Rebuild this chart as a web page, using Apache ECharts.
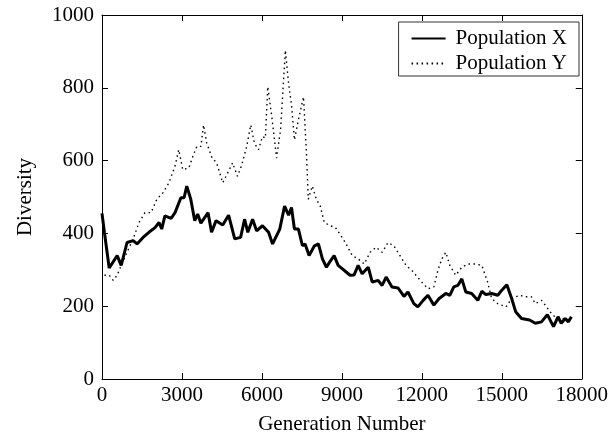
<!DOCTYPE html>
<html>
<head>
<meta charset="utf-8">
<script src="https://cdn.jsdelivr.net/npm/echarts@6/dist/echarts.min.js"></script>
<style>
  html, body { margin: 0; padding: 0; background: #fff; }
  #chart { width: 611px; height: 440px; }
</style>
</head>
<body>
<div id="chart"></div>
<script>
// Population X (solid line)
const genX = [0, 90, 270, 570, 720, 940, 1170, 1315, 1540, 1760, 1990, 2140, 2240, 2360, 2590, 2740, 2960, 3080, 3180, 3330,
  3480, 3590, 3710, 3980, 4110, 4280, 4530, 4750, 4980, 5200, 5350, 5470, 5650, 5800, 6020, 6250, 6400, 6670, 6850, 7000,
  7110, 7220, 7370, 7520, 7620, 7770, 7970, 8120, 8270, 8420, 8540, 8710, 8860, 9010, 9160, 9310, 9460, 9610, 9760, 9990,
  10140, 10360, 10510, 10660, 10880, 11110, 11330, 11480, 11700, 11850, 12050, 12230, 12450, 12650, 12900, 13050, 13200, 13350, 13500, 13650,
  13870, 14100, 14250, 14400, 14620, 14850, 15000, 15190, 15370, 15520, 15740, 16040, 16260, 16490, 16710, 16940, 17110, 17230, 17380, 17500, 17610]
const divX = [455, 403, 305, 339, 312, 375, 380, 371, 389, 403, 416, 430, 412, 448, 441, 457, 498, 498, 530, 494,
  435, 453, 428, 457, 403, 435, 423, 450, 385, 389, 439, 403, 439, 407, 421, 403, 371, 412, 475, 450,
  471, 412, 412, 366, 371, 339, 366, 371, 330, 307, 321, 339, 312, 303, 294, 285, 286, 312, 289, 307,
  266, 271, 257, 280, 253, 250, 227, 239, 207, 198, 216, 230, 203, 221, 235, 230, 253, 257, 275, 239,
  235, 216, 241, 232, 235, 230, 244, 259, 221, 185, 166, 162, 153, 157, 177, 144, 171, 153, 166, 157, 171]

// Population Y (dotted line)
const genY = [90, 270, 420, 570, 720, 940, 1170, 1390, 1610, 1840, 2060, 2290, 2510, 2740, 2880, 3030, 3260, 3410, 3560, 3710,
  3810, 3930, 4130, 4300, 4530, 4720, 4900, 5080, 5230, 5430, 5580, 5720, 5870, 6020, 6130, 6220, 6370, 6550, 6700, 6880,
  7000, 7110, 7220, 7370, 7560, 7670, 7740, 7890, 8040, 8190, 8340, 8560, 8760, 9010, 9160, 9390, 9610, 9840, 10060, 10280,
  10510, 10730, 10950, 11180, 11410, 11630, 11780, 12000, 12230, 12450, 12600, 12750, 12900, 13050, 13270, 13500, 13720, 14020, 14250, 14470,
  14620, 14850, 15160, 15370, 15670, 15890, 16110, 16260, 16490, 16680, 16890, 17090, 17310, 17610]
const divY = [285, 285, 271, 285, 312, 348, 385, 430, 457, 457, 494, 512, 539, 585, 630, 575, 580, 612, 639, 639,
  698, 648, 607, 594, 539, 567, 594, 557, 585, 639, 698, 648, 630, 666, 662, 803, 721, 607, 685, 903,
  812, 753, 657, 712, 775, 621, 494, 530, 494, 475, 430, 421, 416, 389, 371, 339, 330, 316, 348, 362,
  348, 375, 366, 339, 312, 298, 285, 266, 248, 253, 298, 330, 348, 312, 285, 307, 316, 316, 312, 266,
  221, 207, 198, 221, 230, 226, 226, 207, 216, 198, 177, 166, 166, 162]

const xTicks = [0, 3000, 6000, 9000, 12000, 15000, 18000]
const yTicks = [0, 200, 400, 600, 800, 1000]

const FONT = '"Liberation Serif", "DejaVu Serif", serif'
const INK = '#000'

const chart = echarts.init(document.getElementById('chart'), null, { renderer: 'canvas' })

// shared look for the box axes (ticks inside on all four sides)
const frameAxis = (extra) => Object.assign({
  type: 'value',
  axisLine: { show: true, onZero: false, lineStyle: { color: INK, width: 1 } },
  axisTick: { show: true, inside: true, length: 6, lineStyle: { color: INK } },
  splitLine: { show: false },
}, extra)

const option = {
  backgroundColor: '#fff',
  animation: false,
  grid: { left: 102, right: 27, top: 15, bottom: 58, containLabel: false },
  legend: {
    orient: 'vertical',
    right: 32,
    top: 22,
    backgroundColor: '#fff',
    borderColor: '#333',
    borderWidth: 1,
    borderRadius: 0,
    padding: [6, 12, 2, 12],
    itemGap: 4,
    itemWidth: 34,
    itemHeight: 12,
    itemStyle: { opacity: 0 },
    textStyle: { fontFamily: FONT, fontSize: 21, color: INK, padding: [0, 0, 0, 5] },
    data: ['Population X', 'Population Y'],
  },
  xAxis: [
    frameAxis({
      position: 'bottom',
      min: 0, max: 18000, interval: 3000,
      name: 'Generation Number',
      nameLocation: 'middle',
      nameGap: 35,
      nameTextStyle: { fontFamily: FONT, fontSize: 21, color: INK },
      axisLabel: {
        fontFamily: FONT, fontSize: 21, color: INK, margin: 6,
        formatter: (v) => (xTicks.includes(v) ? String(v) : ''),
      },
    }),
    frameAxis({
      position: 'top',
      min: 0, max: 18000, interval: 3000,
      axisLabel: { show: false },
    }),
  ],
  yAxis: [
    frameAxis({
      position: 'left',
      min: 0, max: 1000, interval: 200,
      name: 'Diversity',
      nameLocation: 'middle',
      nameGap: 66,
      nameTextStyle: { fontFamily: FONT, fontSize: 21, color: INK },
      axisLabel: {
        fontFamily: FONT, fontSize: 21, color: INK, margin: 8,
        formatter: (v) => (yTicks.includes(v) ? String(v) : ''),
      },
    }),
    frameAxis({
      position: 'right',
      min: 0, max: 1000, interval: 200,
      axisLabel: { show: false },
    }),
  ],
  series: [
    {
      name: 'Population X',
      type: 'line',
      xAxisIndex: 0,
      yAxisIndex: 0,
      data: genX.map((g, i) => [g, divX[i]]),
      symbol: 'none',
      lineStyle: { color: INK, width: 3, type: 'solid' },
      itemStyle: { color: INK },
    },
    {
      name: 'Population Y',
      type: 'line',
      xAxisIndex: 0,
      yAxisIndex: 0,
      data: genY.map((g, i) => [g, divY[i]]),
      symbol: 'none',
      lineStyle: { color: INK, width: 1.4, type: [1.5, 3.5] },
      itemStyle: { color: INK },
    },
  ],
}

chart.setOption(option)
</script>
</body>
</html>
